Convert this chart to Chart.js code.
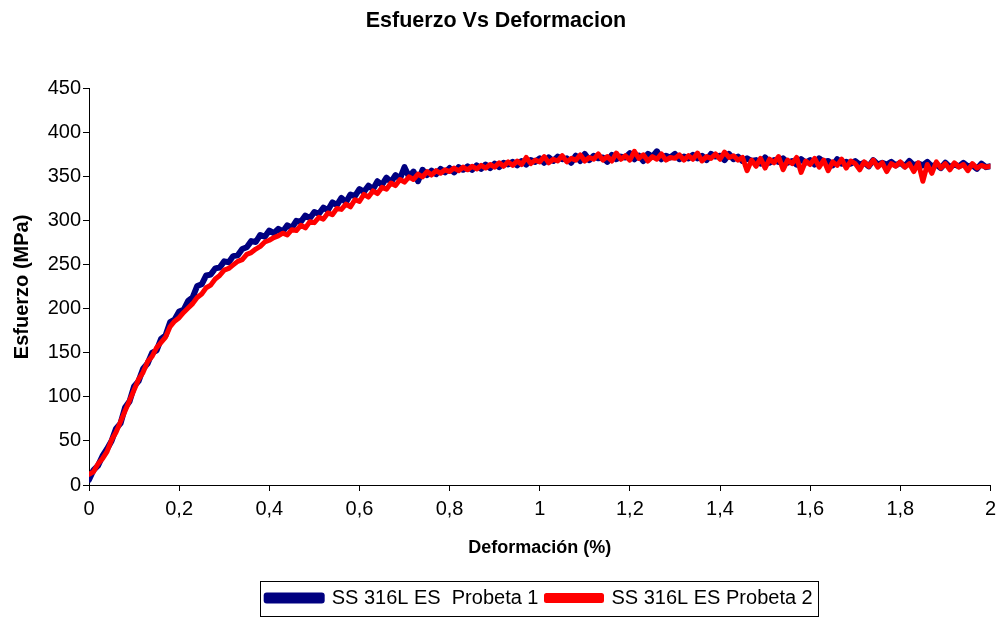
<!DOCTYPE html>
<html>
<head>
<meta charset="utf-8">
<script src="https://cdn.jsdelivr.net/npm/chart.js@4"></script>
<style>
  html, body { margin: 0; padding: 0; background: #fff; }
  #wrap { width: 1002px; height: 618px; }
</style>
</head>
<body>
<div id="wrap"><canvas id="myChart" width="1002" height="618"></canvas></div>
<script>
// Esfuerzo (MPa), read every 0,01 % of deformacion from 0 to 2
let probeta1 = [
  6, 17, 22, 33, 41, 50, 64, 70, 88, 95,
  112, 118, 132, 138, 150, 153, 166, 170, 185, 188,
  197, 199, 209, 213, 226, 228, 238, 239, 246, 247,
  254, 253, 260, 261, 268, 270, 277, 276, 284, 282,
  289, 286, 291, 288, 295, 292, 300, 299, 306, 303,
  310, 308, 315, 312, 321, 318, 326, 321, 330, 328,
  336, 333, 340, 336, 345, 341, 349, 344, 352, 348,
  361, 350, 356, 345, 358, 352, 357, 353, 359, 355,
  360, 355, 361, 358, 362, 358, 363, 359, 364, 360,
  365, 361, 366, 364, 367, 363, 368, 364, 369, 367,
  371, 366, 372, 368, 373, 370, 371, 366, 374, 368,
  376, 369, 374, 371, 372, 367, 375, 370, 373, 372,
  377, 370, 374, 368, 376, 373, 379, 370, 374, 372,
  376, 370, 373, 371, 375, 371, 374, 369, 376, 373,
  374, 369, 376, 370, 373, 368, 371, 368, 369, 365,
  372, 366, 369, 367, 371, 366, 368, 364, 370, 366,
  369, 364, 371, 367, 368, 363, 370, 365, 367, 365,
  368, 364, 366, 362, 369, 364, 366, 364, 367, 363,
  366, 362, 368, 363, 365, 363, 367, 362, 364, 360,
  366, 361, 364, 362, 366, 362, 363, 359, 365, 361,
  362
];
let probeta2 = [
  12, 15, 24, 30, 38, 51, 60, 72, 84, 96,
  108, 120, 128, 140, 146, 156, 162, 168, 180, 186,
  190, 196, 201, 206, 213, 217, 224, 227, 234, 238,
  244, 246, 250, 254, 256, 262, 264, 268, 271, 276,
  278, 281, 283, 286, 284, 290, 289, 295, 292, 299,
  298, 304, 302, 309, 307, 314, 313, 319, 316, 324,
  322, 330, 327, 334, 331, 338, 336, 343, 340, 347,
  344, 350, 347, 353, 350, 356, 352, 357, 354, 358,
  356, 360, 357, 361, 358, 362, 359, 363, 360, 364,
  361, 366, 362, 367, 363, 368, 364, 372, 365, 369,
  367, 373, 366, 370, 368, 374, 367, 371, 369, 375,
  368, 372, 370, 376, 369, 373, 368, 377, 370, 374,
  369, 379, 371, 375, 368, 373, 370, 376, 369, 372,
  371, 375, 369, 374, 370, 377, 368, 373, 371, 376,
  370, 378, 372, 374, 369, 372, 357, 369, 362, 371,
  360, 370, 366, 373, 358, 369, 365, 372, 355, 368,
  364, 371, 361, 369, 357, 367, 363, 370, 360, 368,
  365, 358, 367, 362, 369, 361, 366, 356, 365, 362,
  367, 361, 365, 356, 366, 345, 364, 354, 367, 360,
  365, 358, 366, 361, 364, 357, 365, 360, 363, 361,
  362
];

// Deformacion (%) sampling grid
let deformacion = probeta1.map((_, i) => i / 100);

let toXY = ys => ys.map((y, i) => ({ x: deformacion[i], y: y }));

let font = 'Arial, "Liberation Sans", sans-serif';

// draws the thin box round the legend, like Excel does
let legendBox = {
    id: 'legendBox',
    afterDraw(chart) {
        let lg = chart.legend;
        let boxes = lg.legendHitBoxes;
        if (!boxes || !boxes.length) return;
        let first = boxes[0], last = boxes[boxes.length - 1];
        let ctx = chart.ctx;
        let x0 = Math.round(first.left - 7) + 0.5;
        let x1 = Math.round(last.left + last.width + 5) + 0.5;
        let y0 = Math.round(lg.top + 1) + 0.5;
        let y1 = Math.round(lg.bottom - 2) + 0.5;
        ctx.save();
        ctx.strokeStyle = '#000';
        ctx.lineWidth = 1;
        ctx.strokeRect(x0, y0, x1 - x0, y1 - y0);
        ctx.restore();
    }
};

let ctx = document.getElementById('myChart').getContext('2d');
let myChart = new Chart(ctx, {
    type: 'line',
    data: {
        datasets: [
            {
                data: toXY(probeta1),
                label: 'SS 316L ES  Probeta 1',
                borderColor: '#000080',
                backgroundColor: '#000080',
                borderWidth: 6,
                order: 1
            },
            {
                data: toXY(probeta2),
                label: 'SS 316L ES Probeta 2',
                borderColor: '#ff0000',
                backgroundColor: '#ff0000',
                borderWidth: 5,
                order: 0
            }
        ]
    },
    options: {
        responsive: false,
        animation: false,
        layout: { padding: { left: 0, right: 10, top: 0, bottom: 0 } },
        elements: {
            point: { radius: 0 },
            line: { tension: 0, borderJoinStyle: 'round', borderCapStyle: 'round' }
        },
        plugins: {
            tooltip: { enabled: false },
            title: {
                display: true,
                text: 'Esfuerzo Vs Deformacion',
                color: '#000',
                font: { family: font, size: 21.5, weight: 'bold' },
                padding: { top: 8, bottom: 55 }
            },
            legend: {
                position: 'bottom',
                fullSize: false,
                labels: {
                    color: '#000',
                    font: { family: font, size: 20 },
                    boxWidth: 55,
                    boxHeight: 5,
                    padding: 8,
                    sort: (a, b) => a.datasetIndex - b.datasetIndex
                }
            }
        },
        scales: {
            x: {
                type: 'linear',
                min: 0,
                max: 2,
                afterFit: s => { s.height = 95; },
                ticks: {
                    stepSize: 0.2,
                    color: '#000',
                    font: { family: font, size: 20 },
                    padding: 6,
                    maxRotation: 0,
                    callback: v => String(Number(v.toFixed(1))).replace('.', ',')
                },
                grid: { drawOnChartArea: false, color: '#000', tickLength: 6 },
                border: { color: '#000' },
                title: {
                    display: true,
                    text: 'Deformación (%)',
                    color: '#000',
                    font: { family: font, size: 18, weight: 'bold' },
                    padding: { top: 0, bottom: 21 }
                }
            },
            y: {
                min: 0,
                max: 450,
                afterFit: s => { s.width = 89; },
                ticks: {
                    stepSize: 50,
                    color: '#000',
                    font: { family: font, size: 20 },
                    padding: 2
                },
                grid: { drawOnChartArea: false, color: '#000', tickLength: 6 },
                border: { color: '#000' },
                title: {
                    display: true,
                    text: 'Esfuerzo (MPa)',
                    color: '#000',
                    font: { family: font, size: 20, weight: 'bold' },
                    padding: 10
                }
            }
        }
    },
    plugins: [legendBox]
});
</script>
</body>
</html>
